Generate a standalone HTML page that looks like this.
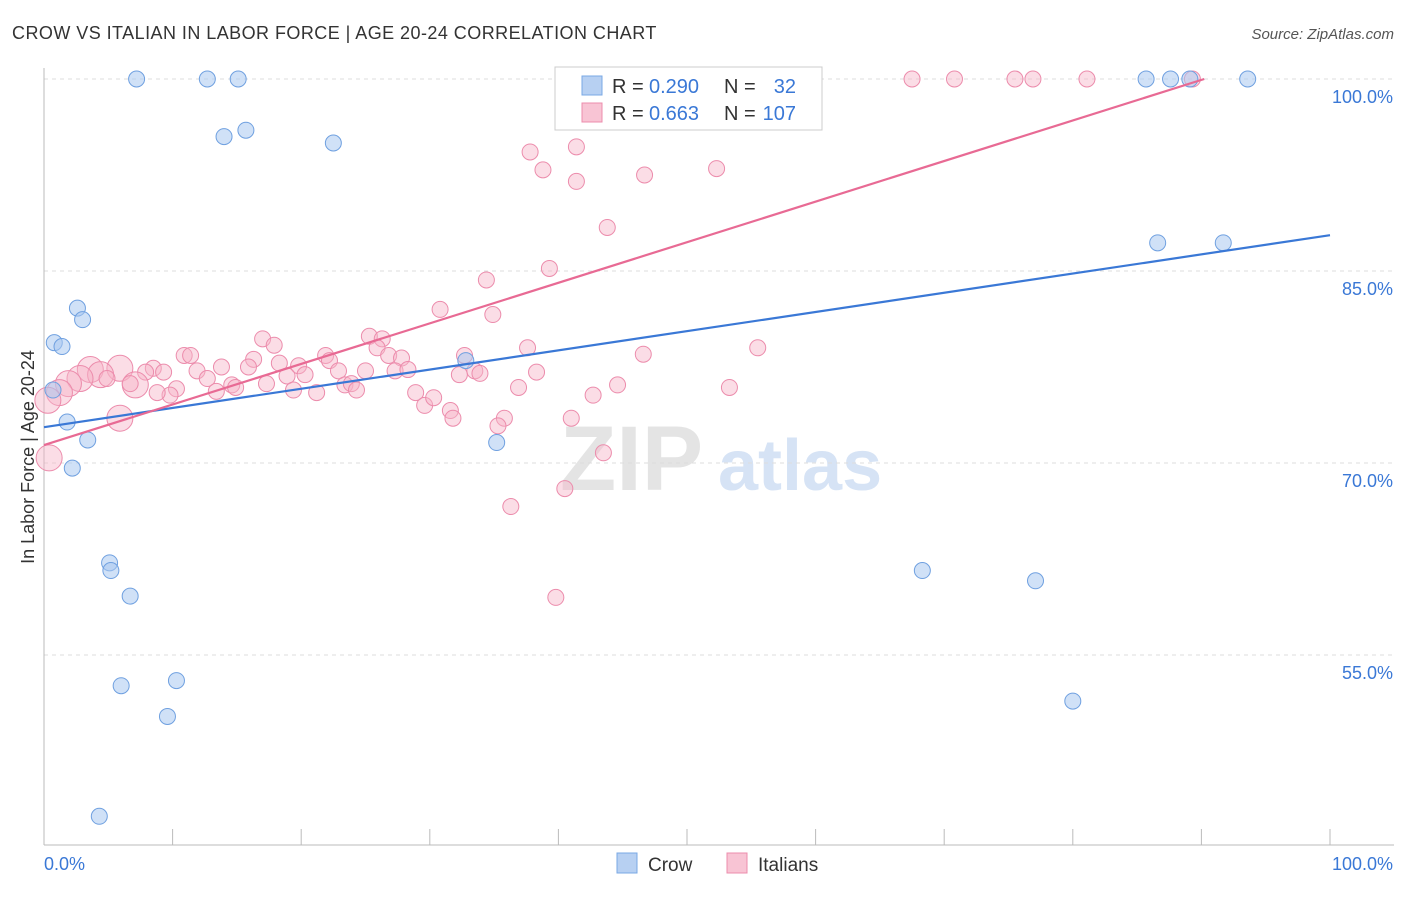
<!DOCTYPE html>
<html><head><meta charset="utf-8">
<style>
body{margin:0;background:#fff;font-family:"Liberation Sans",sans-serif;}
svg text{font-family:"Liberation Sans",sans-serif;}
</style></head>
<body>
<svg id="chart" width="1406" height="892" xmlns="http://www.w3.org/2000/svg">
<text x="12" y="39" font-size="18" fill="#333" letter-spacing="0.45">CROW VS ITALIAN IN LABOR FORCE | AGE 20-24 CORRELATION CHART</text>
<text x="1394" y="39" font-size="15" fill="#555" text-anchor="end" font-style="italic">Source: ZipAtlas.com</text>
<text x="560" y="490" font-size="92" fill="#e4e4e4" font-family="Liberation Serif" font-weight="bold">ZIP</text>
<text x="718" y="490" font-size="72" fill="#d6e3f5" font-weight="bold">atlas</text>
<g id="grid"></g>
<g id="axes"></g>
<g id="points"></g>
<g id="lines"></g>
<text transform="translate(34,457) rotate(-90)" font-size="18" fill="#333" text-anchor="middle">In Labor Force | Age 20-24</text>
<g>
<rect x="555" y="67" width="267" height="63" fill="#fff" stroke="#ccc"/>
<rect x="582" y="76" width="20" height="19" fill="#b7d0f2" stroke="#7aa8e4"/>
<rect x="582" y="103" width="20" height="19" fill="#f8c4d4" stroke="#ec8cac"/>
<text x="612" y="93" font-size="20" fill="#333">R =</text>
<text x="649" y="93" font-size="20" fill="#3a78d6">0.290</text>
<text x="724" y="93" font-size="20" fill="#333">N =</text>
<text x="796" y="93" font-size="20" fill="#3a78d6" text-anchor="end">32</text>
<text x="612" y="120" font-size="20" fill="#333">R =</text>
<text x="649" y="120" font-size="20" fill="#3a78d6">0.663</text>
<text x="724" y="120" font-size="20" fill="#333">N =</text>
<text x="796" y="120" font-size="20" fill="#3a78d6" text-anchor="end">107</text>
</g>
<g>
<rect x="617" y="853" width="20" height="20" fill="#b7d0f2" stroke="#7aa8e4"/>
<text x="648" y="871" font-size="19" fill="#333">Crow</text>
<rect x="727" y="853" width="20" height="20" fill="#f8c4d4" stroke="#ec8cac"/>
<text x="758" y="871" font-size="19" fill="#333">Italians</text>
</g>
</svg>
<script>
const yTicks=[55,70,85,100];
const yTickLabels=["55.0%","70.0%","85.0%","100.0%"];
const xTicks=[0,10,20,30,40,50,60,70,80,90,100];
const crowX=[7.2,12.7,15.1,14.0,15.7,22.5,85.7,87.6,89.1,93.6,86.6,91.7,2.6,3.0,0.8,1.4,0.7,1.8,3.4,2.2,32.8,35.2,5.1,5.2,6.7,6.0,10.3,9.6,4.3,68.3,77.1,80.0];
const crowY=[100,100,100,95.5,96.0,95.0,100,100,100,100,87.2,87.2,82.1,81.2,79.4,79.1,75.7,73.2,71.8,69.6,78.0,71.6,62.2,61.6,59.6,52.6,53.0,50.2,42.4,61.6,60.8,51.4];
const itX=[45.2,49.8,51.8,67.5,70.8,75.5,76.9,81.1,89.3,37.8,41.4,38.8,41.4,46.7,52.3,43.8,39.3,34.4,30.8,34.9,17.0,17.9,25.3,26.3,25.9,37.6,46.6,55.5,10.9,11.4,16.3,21.9,22.2,26.8,27.8,32.7,15.9,18.3,19.8,8.5,13.8,5.9,3.6,4.4,2.8,4.9,7.9,9.3,11.9,22.9,25.0,27.3,28.3,33.5,38.3,32.3,33.9,12.7,14.6,18.9,20.3,7.1,1.9,1.2,0.3,6.7,10.3,9.8,8.8,13.4,14.9,17.3,19.4,21.2,23.4,23.9,24.3,36.9,44.6,53.3,42.7,28.9,29.6,30.3,31.6,31.8,5.9,35.8,35.3,41.0,43.5,0.4,40.5,36.3,39.8];
const itY=[100,100,100,100,100,100,100,100,100,94.3,94.7,92.9,92.0,92.5,93.0,88.4,85.2,84.3,82.0,81.6,79.7,79.2,79.9,79.7,79.0,79.0,78.5,79.0,78.4,78.4,78.1,78.4,78.0,78.4,78.2,78.4,77.5,77.8,77.6,77.4,77.5,77.4,77.3,76.9,76.6,76.6,77.1,77.1,77.2,77.2,77.2,77.2,77.3,77.2,77.1,76.9,77.0,76.6,76.1,76.8,76.9,76.1,76.2,75.5,74.9,76.2,75.8,75.3,75.5,75.6,75.9,76.2,75.7,75.5,76.1,76.2,75.7,75.9,76.1,75.9,75.3,75.5,74.5,75.1,74.1,73.5,73.5,73.5,72.9,73.5,70.8,70.4,68.0,66.6,59.5];
const itBig=[41,42,43,44,61,62,63,64,86,91];
const crowLine=[72.8,0.150];
const itLine=[71.4,0.317];
const X=v=>44+v*12.86, Y=v=>79+(100-v)*12.8;
const NS="http://www.w3.org/2000/svg";
function mk(tag,attrs,parent){const e=document.createElementNS(NS,tag);for(const k in attrs)e.setAttribute(k,attrs[k]);parent.appendChild(e);return e;}
const grid=document.getElementById('grid'),axes=document.getElementById('axes'),pts=document.getElementById('points'),lines=document.getElementById('lines');
yTicks.forEach((t,i)=>{
 const l=mk('line',{x1:44,x2:1394,y1:Y(t),y2:Y(t),stroke:'#ddd','stroke-dasharray':'4,4'},grid);
 
 
 const tx=mk('text',{x:1393,y:Y(t)+24,'font-size':18,fill:'#3a78d6','text-anchor':'end'},axes);
 tx.textContent=yTickLabels[i];
 
 
});
const ax=mk('line',{x1:44,x2:44,y1:68,y2:845,stroke:'#bbb'},axes);


const bx=mk('line',{x1:44,x2:1394,y1:845,y2:845,stroke:'#bbb'},axes);


xTicks.forEach(t=>{
 const l=mk('line',{x1:X(t),x2:X(t),y1:829,y2:845,stroke:'#bbb'},axes);
 
 
});
const xl0=mk('text',{x:44,y:870,'font-size':18,fill:'#3a78d6'},axes);xl0.textContent='0.0%';


const xl1=mk('text',{x:1393,y:870,'font-size':18,fill:'#3a78d6','text-anchor':'end'},axes);xl1.textContent='100.0%';


itX.forEach((v,i)=>{
 const c=mk('circle',{cx:X(v),cy:Y(itY[i]),r:itBig.includes(i)?13:8,fill:'rgba(246,180,200,0.45)',stroke:'#ec8cac','stroke-width':1},pts);
 
 
});
crowX.forEach((v,i)=>{
 const c=mk('circle',{cx:X(v),cy:Y(crowY[i]),r:8,fill:'rgba(170,200,240,0.55)',stroke:'#6fa0e0','stroke-width':1},pts);
 
 
});
const bl=mk('line',{x1:X(0),y1:Y(crowLine[0]),x2:X(100),y2:Y(crowLine[0]+crowLine[1]*100),stroke:'#3a78d6','stroke-width':2.2},lines);


const xe=(100-itLine[0])/itLine[1];
const pl=mk('line',{x1:X(0),y1:Y(itLine[0]),x2:X(xe),y2:Y(100),stroke:'#e86a94','stroke-width':2.2},lines);


</script>
</body></html>
